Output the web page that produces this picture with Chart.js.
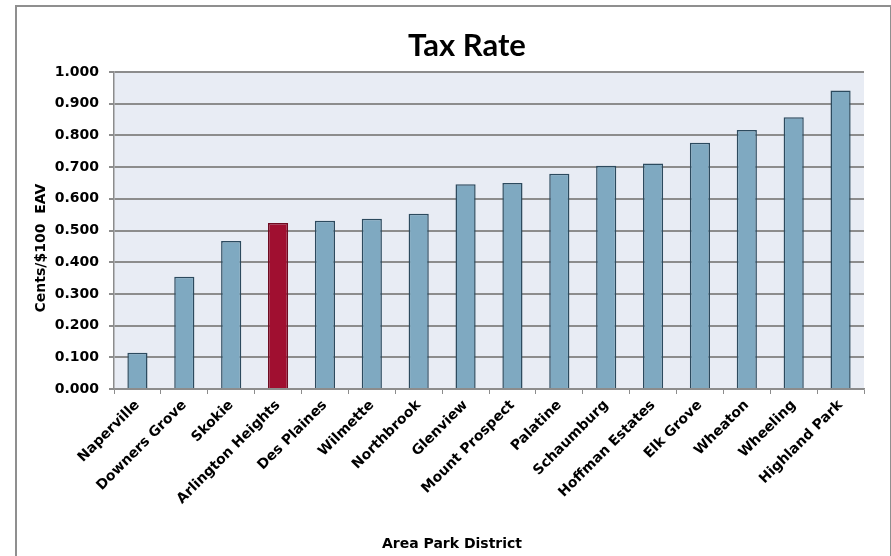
<!DOCTYPE html>
<html>
<head>
<meta charset="utf-8">
<script src="https://cdn.jsdelivr.net/npm/chart.js@4.4.1/dist/chart.umd.min.js"></script>
<style>
  html, body { margin: 0; padding: 0; background: #ffffff; }
  #wrap { position: relative; width: 891px; height: 556px; overflow: hidden; }
  #frame {
    position: absolute; left: 15px; top: 5px; width: 873px; height: 600px;
    border: 2px solid #8f8f8f; border-bottom: none;
  }
  #chart { position: absolute; left: 0; top: 0; }
</style>
</head>
<body>
<div id="wrap">
  <div id="frame"></div>
  <canvas id="chart" width="891" height="556"></canvas>
</div>
<script>
// Park district property tax rates, cents per $100 of equalized assessed value
const districts = [
  'Naperville', 'Downers Grove', 'Skokie', 'Arlington Heights', 'Des Plaines',
  'Wilmette', 'Northbrook', 'Glenview', 'Mount Prospect', 'Palatine',
  'Schaumburg', 'Hoffman Estates', 'Elk Grove', 'Wheaton', 'Wheeling', 'Highland Park'
];
const taxRates = [
  0.114, 0.354, 0.467, 0.524, 0.531,
  0.537, 0.553, 0.646, 0.650, 0.679,
  0.704, 0.711, 0.777, 0.817, 0.857, 0.942
];
const highlighted = 'Arlington Heights';
const yTicks = [0, 0.1, 0.2, 0.3, 0.4, 0.5, 0.6, 0.7, 0.8, 0.9, 1.0];

const chartTitle = 'Tax Rate';
const xTitle = 'Area Park District';
const yTitle = 'Cents/$100  EAV';

const BAR_FILL = '#7fa9c1';
const BAR_EDGE = '#2c4a5e';
const HILITE_FILL = '#a00f30';
const HILITE_EDGE = '#6e0a20';
const GRID = '#8c8c8c';
const PLOT_BG = '#e8ecf4';

const TICK_FONT = { family: "'DejaVu Sans', sans-serif", size: 14, weight: 'bold' };

// Plot background plus the chart / axis captions
const captions = {
  id: 'captions',
  beforeDraw(chart) {
    const { ctx, chartArea: a } = chart;
    ctx.save();
    ctx.fillStyle = PLOT_BG;
    ctx.fillRect(a.left, a.top, a.right - a.left, a.bottom - a.top);
    ctx.restore();
  },
  afterDraw(chart) {
    const { ctx } = chart;
    ctx.save();
    ctx.fillStyle = '#000';
    ctx.textAlign = 'center';
    ctx.textBaseline = 'alphabetic';
    ctx.font = "bold 31px Lato, 'DejaVu Sans', sans-serif";
    ctx.fillText(chartTitle, 467, 56);
    ctx.font = "bold 14px 'DejaVu Sans', sans-serif";
    ctx.fillText(xTitle, 452, 548);
    ctx.translate(45, 248);
    ctx.rotate(-Math.PI / 2);
    ctx.fillText(yTitle, 0, 0);
    ctx.restore();
  }
};

new Chart(document.getElementById('chart'), {
  type: 'bar',
  data: {
    labels: districts,
    datasets: [{
      data: taxRates,
      backgroundColor: districts.map(d => d === highlighted ? HILITE_FILL : BAR_FILL),
      borderColor: districts.map(d => d === highlighted ? HILITE_EDGE : BAR_EDGE),
      borderWidth: 1.5,
      barPercentage: 0.43,
      categoryPercentage: 1.0
    }]
  },
  options: {
    responsive: false,
    devicePixelRatio: 1,
    animation: false,
    layout: { padding: { top: 72, right: 27, bottom: 0, left: 0 } },
    plugins: {
      legend: { display: false },
      title: { display: false },
      tooltip: { enabled: false }
    },
    scales: {
      x: {
        offset: true,
        grid: {
          offset: true,
          drawOnChartArea: false,
          drawTicks: true,
          tickLength: 5,
          color: GRID,
          lineWidth: 1
        },
        border: { display: true, color: GRID, width: 1.5 },
        ticks: {
          font: TICK_FONT,
          color: '#000',
          maxRotation: 45,
          minRotation: 45,
          autoSkip: false,
          padding: 3
        },
        afterFit(scale) { scale.height = 167; }
      },
      y: {
        min: 0,
        max: 1,
        afterBuildTicks(scale) { scale.ticks = yTicks.map(v => ({ value: v })); },
        grid: {
          color: GRID,
          lineWidth: 2,
          drawTicks: true,
          tickLength: 5
        },
        border: { display: true, color: GRID, width: 1.5 },
        ticks: {
          font: TICK_FONT,
          color: '#000',
          padding: 10,
          callback: v => Number(v).toFixed(3)
        },
        afterFit(scale) { scale.width = 114; }
      }
    }
  },
  plugins: [captions]
});
</script>
</body>
</html>
